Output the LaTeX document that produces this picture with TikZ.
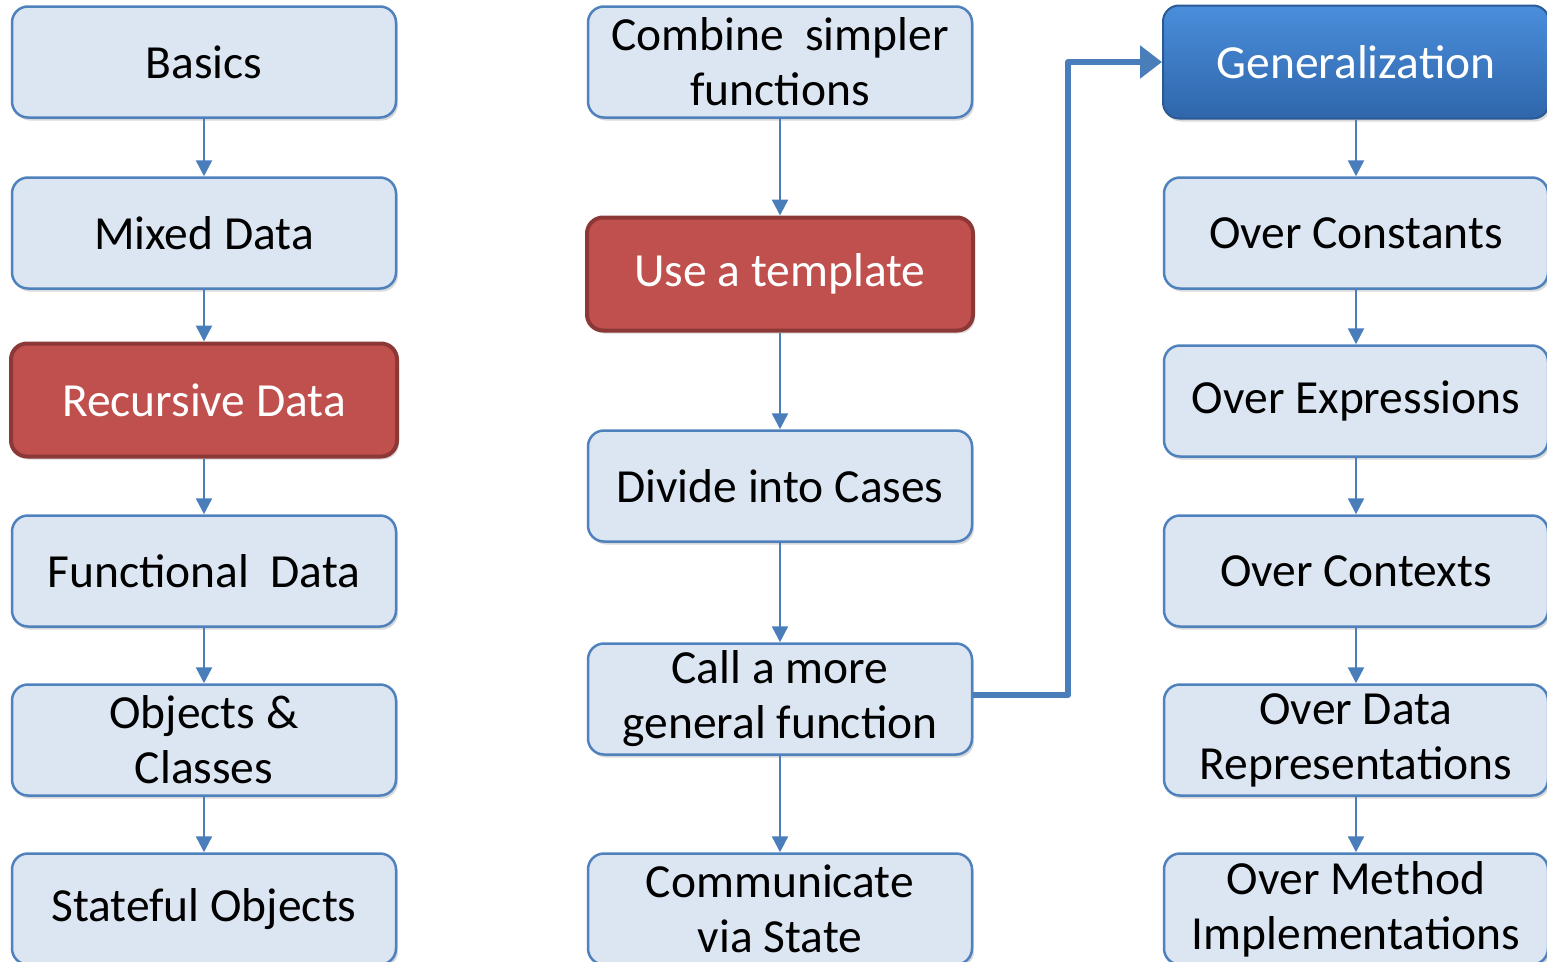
\documentclass[tikz,border=0pt]{standalone}
\usepackage{fontspec}
\setmainfont{Carlito}
\usetikzlibrary{arrows.meta,shadows,positioning}
\definecolor{boxfill}{HTML}{DCE6F2}
\definecolor{boxline}{HTML}{4F81BD}
\definecolor{redfill}{HTML}{C0504D}
\definecolor{redline}{HTML}{8C3836}
\definecolor{gentop}{HTML}{4A8EDB}
\definecolor{genbot}{HTML}{2F66AB}
\definecolor{genline}{HTML}{2A5A96}
\definecolor{arrowc}{HTML}{4A7EBB}
\tikzset{
  box/.style={draw=boxline, line width=2.5pt, fill=boxfill, rounded corners=16pt,
    minimum width=384pt, minimum height=111pt, inner sep=0pt, align=center,
    font=\fontsize{47.5}{55}\selectfont, text=black,
    drop shadow={opacity=0.25, shadow xshift=2pt, shadow yshift=-3pt, fill=black!60}},
  redbox/.style={box, draw=redline, line width=4pt, fill=redfill, text=white},
  genbox/.style={box, draw=genline, line width=2pt, top color=gentop, bottom color=genbot, text=white},
  link/.style={draw=arrowc, line width=2.5pt, -{Triangle[length=16pt,width=16pt]}},
  biglink/.style={draw=arrowc, line width=6pt, line join=round, -{Triangle[length=22pt,width=32pt]}}
}
\begin{document}
\begin{tikzpicture}[x=1pt,y=-1pt]
\useasboundingbox (0,0) rectangle (1547,961);
% left column
\node[box] (basics) at (204,62) {Basics};
\node[box] (mixed) at (204,233) {Mixed Data};
\node[redbox, minimum width=386pt, minimum height=113pt] (recur) at (204,400) {Recursive Data};
\node[box] (func) at (204,571) {Functional~ Data};
\node[box] (objs) at (204,740) {Objects \&\\Classes};
\node[box] (state) at (204,909) {Stateful Objects};
% middle column
\node[box] (combine) at (780,62) {Combine~ simpler\\functions};
\node[redbox, minimum width=386pt, minimum height=113pt] (templ) at (780,274) {Use a template};
\node[box] (divide) at (780,486) {Divide into Cases};
\node[box] (call) at (780,699) {Call a more\\general function};
\node[box] (comm) at (780,909) {Communicate\\via State};
% right column
\node[genbox, minimum width=386pt, minimum height=113pt] (gen) at (1356,62) {Generalization};
\node[box] (const) at (1356,233) {Over Constants};
\node[box] (expr) at (1356,401) {Over Expressions};
\node[box] (ctx) at (1356,571) {Over Contexts};
\node[box] (datarep) at (1356,740) {Over Data\\Representations};
\node[box] (meth) at (1356,909) {Over Method\\Implementations};
% arrows
\draw[link] (basics) -- (mixed);
\draw[link] (mixed) -- (recur);
\draw[link] (recur) -- (func);
\draw[link] (func) -- (objs);
\draw[link] (objs) -- (state);
\draw[link] (combine) -- (templ);
\draw[link] (templ) -- (divide);
\draw[link] (divide) -- (call);
\draw[link] (call) -- (comm);
\draw[link] (gen) -- (const);
\draw[link] (const) -- (expr);
\draw[link] (expr) -- (ctx);
\draw[link] (ctx) -- (datarep);
\draw[link] (datarep) -- (meth);
\coordinate (bend) at (1068,695);
\draw[biglink] (call.east |- bend) -- (bend) |- (gen.west);
\end{tikzpicture}
\end{document}
